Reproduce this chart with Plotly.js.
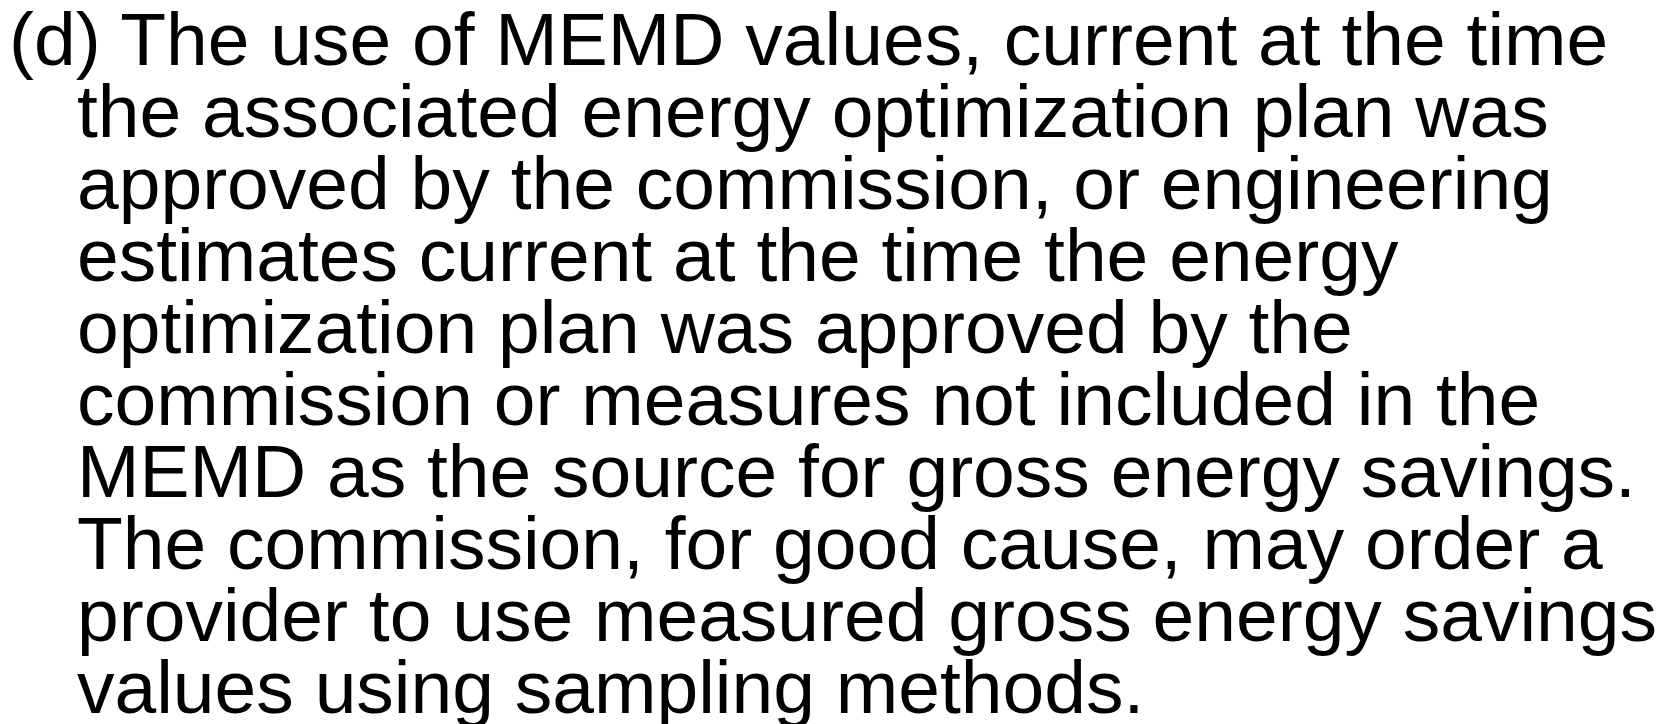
<!DOCTYPE html>
<html>
<head>
<meta charset="utf-8">
<script src="https://cdn.plot.ly/plotly-3.0.1.min.js"></script>
<style>html,body{margin:0;padding:0;background:#fff;}#chart{width:1674px;height:724px;}</style>
</head>
<body>
<div id="chart"></div>
<script>
// Text lines of the paragraph, with indent level and line number
const lines = [
  "(d) The use of MEMD values, current at the time",
  "the associated energy optimization plan was",
  "approved by the commission, or engineering",
  "estimates current at the time the energy",
  "optimization plan was approved by the",
  "commission or measures not included in the",
  "MEMD as the source for gross energy savings.",
  "The commission, for good cause, may order a",
  "provider to use measured gross energy savings",
  "values using sampling methods."
];
const indentLevels = [0, 1, 1, 1, 1, 1, 1, 1, 1, 1];
const lineNumbers = [0, 1, 2, 3, 4, 5, 6, 7, 8, 9];

const annotations = lines.map((t, i) => ({
  text: t,
  x: indentLevels[i],
  y: lineNumbers[i],
  xref: 'x', yref: 'y',
  xanchor: 'left', yanchor: 'middle',
  showarrow: false,
  align: 'left',
  font: {family: 'Liberation Sans, Arial, sans-serif', size: 75, color: '#000000'}
}));

const layout = {
  width: 1674, height: 724,
  margin: {l: 0, r: 0, t: 0, b: 0, pad: 0},
  paper_bgcolor: '#ffffff', plot_bgcolor: '#ffffff',
  showlegend: false,
  xaxis: {range: [-0.103, 24.515], visible: false, showgrid: false, zeroline: false, fixedrange: true},
  yaxis: {range: [9.514, -0.542], visible: false, showgrid: false, zeroline: false, fixedrange: true},
  annotations: annotations
};

Plotly.newPlot('chart', [], layout, {displayModeBar: false, staticPlot: true});
</script>
</body>
</html>
